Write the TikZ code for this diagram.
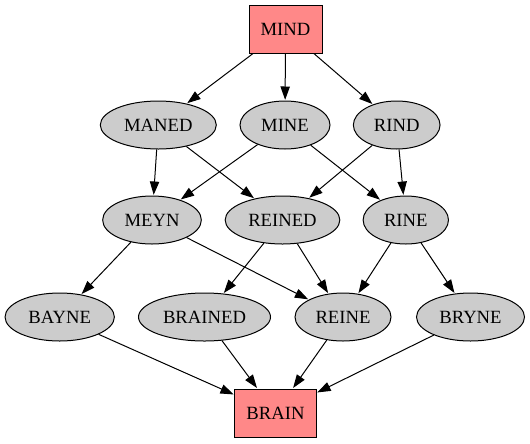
\documentclass[tikz,border=0pt]{standalone}
\usepackage{fontspec}
\setmainfont{Liberation Serif}
\usetikzlibrary{shapes.geometric,arrows.meta}
\definecolor{boxred}{HTML}{FF8888}
\definecolor{ellgray}{HTML}{CCCCCC}
\begin{document}
\begin{tikzpicture}[x=0.75pt,y=-0.75pt,
  every node/.style={font=\fontsize{14}{16}\selectfont, inner sep=0pt, line width=0.75pt, draw=black},
  redbox/.style={rectangle, fill=boxred, minimum height=36pt},
  grayell/.style={ellipse, fill=ellgray, minimum height=36pt},
  edge/.style={line width=0.75pt, -{Triangle[length=10pt,width=7pt]}, shorten >=0.5pt}]
\useasboundingbox (0,0) rectangle (530,443);
\node[redbox, minimum width=54.75pt] (mind) at (285.5,29) {MIND};
\node[grayell, minimum width=87pt] (maned) at (158.3,125) {MANED};
\node[grayell, minimum width=67.5pt] (mine) at (285,125) {MINE};
\node[grayell, minimum width=65pt] (rind) at (396.7,125) {RIND};
\node[grayell, minimum width=74pt] (meyn) at (152,220) {MEYN};
\node[grayell, minimum width=86pt] (reined) at (282.5,220) {REINED};
\node[grayell, minimum width=64pt] (rine) at (405.8,220) {RINE};
\node[grayell, minimum width=82pt] (bayne) at (59.7,317) {BAYNE};
\node[grayell, minimum width=99pt] (brained) at (204.5,317) {BRAINED};
\node[grayell, minimum width=72pt] (reine) at (343,317) {REINE};
\node[grayell, minimum width=81pt] (bryne) at (470.5,317) {BRYNE};
\node[redbox, minimum width=61pt] (brain) at (275.5,413) {BRAIN};
\draw[edge] (mind) -- (maned);
\draw[edge] (mind) -- (mine);
\draw[edge] (mind) -- (rind);
\draw[edge] (maned) -- (meyn);
\draw[edge] (maned) -- (reined);
\draw[edge] (mine) -- (meyn);
\draw[edge] (mine) -- (rine);
\draw[edge] (rind) -- (reined);
\draw[edge] (rind) -- (rine);
\draw[edge] (meyn) -- (bayne);
\draw[edge] (meyn) -- (reine);
\draw[edge] (reined) -- (brained);
\draw[edge] (reined) -- (reine);
\draw[edge] (rine) -- (reine);
\draw[edge] (rine) -- (bryne);
\draw[edge] (bayne) -- (brain);
\draw[edge] (brained) -- (brain);
\draw[edge] (reine) -- (brain);
\draw[edge] (bryne) -- (brain);
\end{tikzpicture}
\end{document}
